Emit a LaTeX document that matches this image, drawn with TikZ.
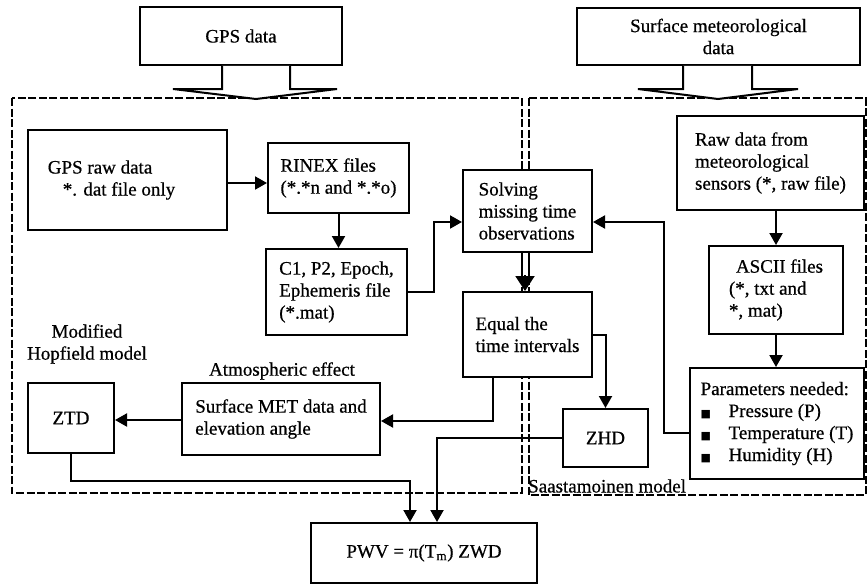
\documentclass[tikz,border=0pt]{standalone}
\usepackage{fontspec}
\setmainfont[FakeBold=0.6]{Liberation Serif}
\newfontfamily\symfont{DejaVu Sans}
\usetikzlibrary{arrows.meta}
\newcommand{\sqbul}{\makebox[28pt][l]{\fontsize{11}{11}\symfont ■}}

\begin{document}
\begin{tikzpicture}[x=1pt,y=-1pt,
  font=\fontsize{19}{22}\selectfont,
  blk/.style={draw, line width=2pt, fill=white, inner sep=0pt, align=left},
  arr/.style={line width=2pt, -{Triangle[length=12pt,width=13pt]}},
  wire/.style={line width=2pt},
  region/.style={line width=2pt, dash pattern=on 8pt off 2.5pt},
  lbl/.style={inner sep=0pt, align=center}]
\useasboundingbox (0,0) rectangle (867,586);

% processing regions
\draw[region] (12,98) rectangle (521.5,493);
\draw[region] (528.5,98) rectangle (865.5,495);

% input sources
\node[blk, minimum width=202pt, minimum height=58pt, align=center] (gps) at (241,36) {GPS data};
\node[blk, minimum width=283pt, minimum height=57pt, align=center] (met) at (718.5,36.5) {Surface meteorological\\data};

% block arrows into the regions
\draw[wire, fill=white] ([xshift=-19pt]gps.south) -- ++(0,23) -- ++(-49,0) -- ++(83,10) -- ++(81,-10) -- ++(-47,0) -- ++(0,-23);
\draw[wire, fill=white] ([xshift=-35.5pt]met.south) -- ++(0,23) -- ++(-45,0) -- ++(80,10) -- ++(80,-10) -- ++(-46,0) -- ++(0,-23);

% GPS processing
\node[blk, minimum width=199pt, minimum height=100pt] (raw) at (127.5,180) {GPS raw data\\\hspace*{15pt}*. dat file only\hspace*{32pt}};
\node[blk, minimum width=141pt, minimum height=70pt] (rinex) at (338.5,178) {RINEX files\\(*.*n and *.*o)};
\node[blk, minimum width=141pt, minimum height=86pt] (c1) at (336.5,292) {C1, P2, Epoch,\\Ephemeris file\\(*.mat)};
\node[blk, minimum width=129pt, minimum height=82pt] (solve) at (527.5,211) {Solving\\missing time\\observations};
\node[blk, minimum width=129pt, minimum height=85pt] (equal) at (527.5,334.5) {Equal the\\time intervals};
\node[blk, minimum width=86pt, minimum height=70pt, align=center] (ztd) at (71,418) {ZTD};
\node[blk, minimum width=198pt, minimum height=72pt] (surf) at (281,419) {Surface MET data and\\elevation angle};
\node[blk, minimum width=85pt, minimum height=58pt, align=center] (zhd) at (605.5,438) {ZHD};
\node[blk, minimum width=226pt, minimum height=60pt, align=center] (pwv) at (424,553) {PWV = π(T\textsubscript{m}) ZWD};

% meteorological processing
\node[blk, minimum width=187pt, minimum height=94pt] (mraw) at (770.5,163) {Raw data from\\meteorological\\sensors (*, raw file)};
\node[blk, minimum width=134pt, minimum height=88pt] (ascii) at (776,290) {\hspace*{7pt}ASCII files\\(*, txt and\\*, mat)};
\node[blk, minimum width=174pt, minimum height=111pt] (param) at (777,423.5) {Parameters needed:\\\sqbul Pressure (P)\\\sqbul Temperature (T)\\\sqbul Humidity (H)};

% labels
\node[lbl] (hop) at (87,344) {Modified\\Hopfield model};
\node[lbl] (atm) at (282,371) {Atmospheric effect};
\node[lbl, anchor=west] (saa) at (528,486) {Saastamoinen model};

% connectors
\draw[arr] ([yshift=-3pt]raw.east) -- ([yshift=-3pt]raw.east -| rinex.west);
\draw[arr] (rinex.south) -- (rinex.south |- c1.north);
\draw[arr] (c1.east) -- ++(26,0) |- ([yshift=-11pt]solve.west);
\draw[arr] ([yshift=-9.5pt]param.west) -- ++(-25,0) |- ([yshift=-11pt]solve.east);
\draw[wire, double, double distance=5pt] ([xshift=-2.5pt]solve.south) -- ([xshift=-2.5pt, yshift=12pt]equal.north);
\draw[line width=2pt, -{Triangle[length=15pt,width=19pt]}] ([xshift=-2.5pt, yshift=16pt]equal.north) -- ([xshift=-2.5pt]equal.north);
\draw[arr] (equal.east) -| (zhd.north);
\draw[arr] ([xshift=-34.5pt]equal.south) |- ([yshift=-2pt]surf.east);
\draw[arr] ([yshift=-1pt]surf.west) -- ([yshift=-1pt]surf.west -| ztd.east);
\draw[arr] (ztd.south) -- ++(0,27) -| ([xshift=-14pt]pwv.north);
\draw[arr] (zhd.west) -| ([xshift=13pt]pwv.north);
\draw[arr] (mraw.south -| ascii.north) -- (ascii.north);
\draw[arr] (ascii.south) -- (ascii.south |- param.north);
\end{tikzpicture}
\end{document}
